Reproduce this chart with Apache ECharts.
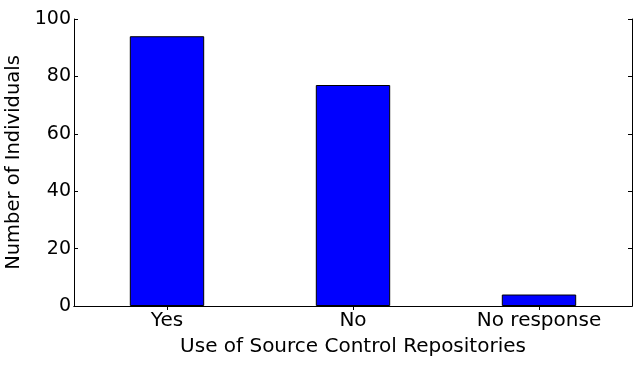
<!DOCTYPE html>
<html><head><meta charset="utf-8">
<script src="https://cdn.jsdelivr.net/npm/echarts@6/dist/echarts.min.js"></script>
<style>html,body{margin:0;padding:0;background:#fff}#c{width:641px;height:365px}</style>
</head><body><div id="c"></div>
<script>
const categories = ["Yes", "No", "No response"];
const counts = [94, 77, 4];
const yTicks = [0, 20, 40, 60, 80, 100];
const xTitle = "Use of Source Control Repositories";
const yTitle = "Number of Individuals";

const font = "DejaVu Sans";
const chart = echarts.init(document.getElementById('c'), null, {renderer: 'canvas'});
const axisLine = {show: true, lineStyle: {color: '#000', width: 1}};
const tick = {show: true, inside: true, length: 4, lineStyle: {color: '#000', width: 1}};
chart.setOption({
  animation: false,
  grid: {left: 74, right: 9, top: 19, bottom: 59, containLabel: false, outerBoundsMode: 'none'},
  xAxis: [{
    type: 'category', data: categories, position: 'bottom',
    axisLine: axisLine, axisTick: Object.assign({alignWithLabel: true}, tick),
    axisLabel: {color: '#000', fontFamily: font, fontSize: 20, margin: 5},
    name: xTitle, nameLocation: 'middle', nameGap: 31,
    nameTextStyle: {color: '#000', fontFamily: font, fontSize: 20},
    splitLine: {show: false}
  }, {
    type: 'category', data: categories, position: 'top',
    axisLine: axisLine, axisTick: Object.assign({alignWithLabel: true}, tick),
    axisLabel: {show: false}, splitLine: {show: false}
  }],
  yAxis: [{
    type: 'value', min: yTicks[0], max: yTicks[yTicks.length - 1], interval: 20, position: 'left',
    axisLine: axisLine, axisTick: tick,
    axisLabel: {color: '#000', fontFamily: font, fontSize: 19, margin: 3},
    name: yTitle, nameLocation: 'middle', nameGap: 46, nameRotate: 90,
    nameTextStyle: {color: '#000', fontFamily: font, fontSize: 19.5},
    splitLine: {show: false}
  }, {
    type: 'value', min: yTicks[0], max: yTicks[yTicks.length - 1], interval: 20, position: 'right',
    axisLine: axisLine, axisTick: tick, axisLabel: {show: false}, splitLine: {show: false}
  }],
  series: [{
    type: 'bar', data: counts, barWidth: '40%', xAxisIndex: 0, yAxisIndex: 0,
    itemStyle: {color: '#0000ff', borderColor: '#000', borderWidth: 1}
  }]
});
</script></body></html>
